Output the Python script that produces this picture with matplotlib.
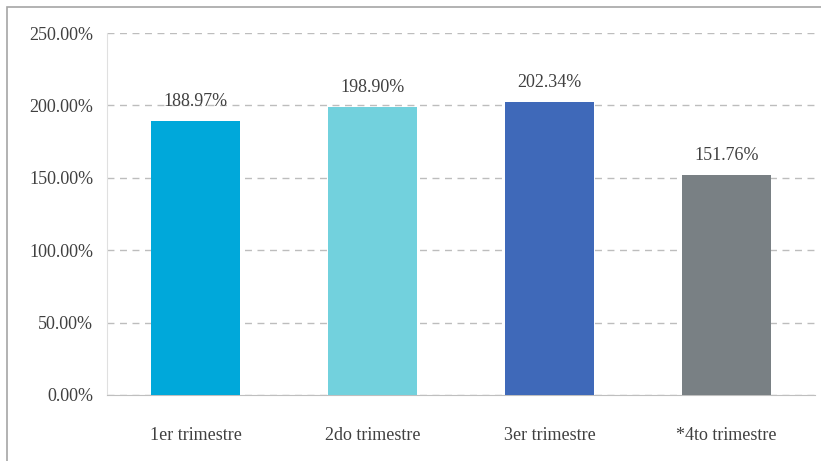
import matplotlib.pyplot as plt
from matplotlib.patches import Rectangle
from matplotlib.ticker import FuncFormatter

categories = ["1er trimestre", "2do trimestre", "3er trimestre", "*4to trimestre"]
values = [188.97, 198.90, 202.34, 151.76]
colors = ["#00A8DA", "#72D1DD", "#3F69B9", "#798084"]
yticks = [0, 50, 100, 150, 200, 250]

plt.rcParams["font.family"] = ["Liberation Serif", "DejaVu Serif"]

fig = plt.figure(figsize=(8.21, 4.61), dpi=100)
ax = fig.add_axes([0.1303, 0.1432, 0.8624, 0.7852])

x = range(len(categories))
bars = ax.bar(x, values, width=0.5, color=colors, zorder=3)

for rect, v in zip(bars, values):
    ax.annotate(f"{v:.2f}%", (rect.get_x() + rect.get_width() / 2, v),
                xytext=(0, 8), textcoords="offset points",
                ha="center", va="bottom", fontsize=13, color="#404040")

ax.set_xlim(-0.5, 3.5)
ax.set_ylim(0, 250)
ax.set_yticks(yticks)
ax.yaxis.set_major_formatter(FuncFormatter(lambda v, _: f"{v:.2f}%"))
ax.set_xticks(list(x))
ax.set_xticklabels(categories)
ax.tick_params(axis="both", length=0, labelsize=13, colors="#404040")
ax.tick_params(axis="x", pad=23)
ax.tick_params(axis="y", pad=10)

ax.grid(axis="y", color="#BDBDBD", linestyle=(0, (5, 4)), linewidth=1, zorder=0)
for side in ["top", "right"]:
    ax.spines[side].set_visible(False)
ax.spines["left"].set_color("#E0E0E0")
ax.spines["bottom"].set_color("#BFBFBF")

# outer frame around the chart
fig.patches.append(Rectangle((7 / 821, -0.02), 1.05, (461 - 7) / 461 + 0.02,
                             transform=fig.transFigure, fill=False,
                             edgecolor="#A6A6A6", linewidth=1.2))

fig.savefig("out.png", dpi=100)
